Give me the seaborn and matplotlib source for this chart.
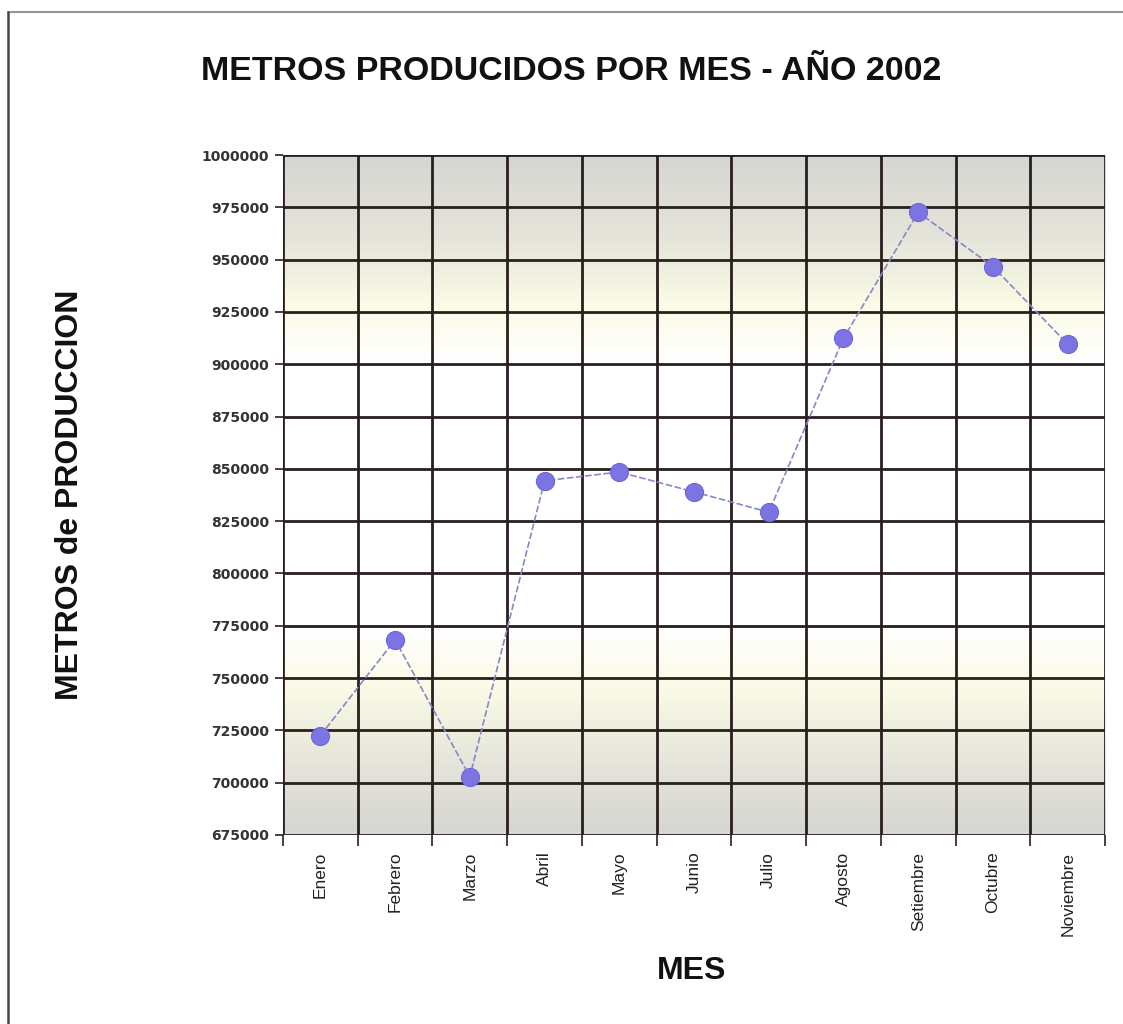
import numpy as np
import pandas as pd
import matplotlib
matplotlib.use("Agg")
import matplotlib.pyplot as plt
from matplotlib.colors import LinearSegmentedColormap
from matplotlib.lines import Line2D
import seaborn as sns

meses = ["Enero", "Febrero", "Marzo", "Abril", "Mayo", "Junio", "Julio",
         "Agosto", "Setiembre", "Octubre", "Noviembre"]
metros = [722500, 768300, 702900, 844300, 848500, 839000, 829300,
          912400, 972600, 946700, 909600]
y_ticks = list(range(675000, 1000001, 25000))

df = pd.DataFrame({"Mes": meses, "Metros": metros})

sns.set_theme(style="white")
plt.rcParams["font.family"] = ["Liberation Sans", "DejaVu Sans"]

fig = plt.figure(figsize=(11.23, 10.24), dpi=100)
ax = fig.add_axes([0.252, 0.1846, 0.732, 0.664])

# background band: grey at the edges, pale yellow, white in the middle
bg = LinearSegmentedColormap.from_list(
    "banda",
    [(0.0, "#d6d6d2"), (0.10, "#e4e4da"), (0.22, "#fbfbe6"), (0.30, "#ffffff"),
     (0.70, "#ffffff"), (0.78, "#fbfbe6"), (0.88, "#e4e4da"), (1.0, "#d6d6d2")])
grad = np.linspace(0, 1, 256).reshape(-1, 1)
ax.imshow(grad, cmap=bg, aspect="auto", extent=(-0.5, 10.5, 675000, 1000000),
          origin="lower", zorder=0)

# grid
for yv in y_ticks:
    ax.axhline(yv, color="#2a1e1e", lw=2.0, zorder=1)
for xv in np.arange(-0.5, 11.0, 1.0):
    ax.axvline(xv, color="#2a1e1e", lw=2.0, zorder=1)

sns.lineplot(data=df, x="Mes", y="Metros", ax=ax, sort=False,
             color="#8a86c8", lw=1.2, linestyle=(0, (4, 1.5)), zorder=3)
sns.scatterplot(data=df, x="Mes", y="Metros", ax=ax, s=170,
                color="#7b74e2", edgecolor="#6f68d8", linewidth=0.8, zorder=4)

ax.set_xlim(-0.5, 10.5)
ax.set_ylim(675000, 1000000)
ax.set_yticks(y_ticks)
ax.set_yticklabels([str(v) for v in y_ticks], fontsize=10, fontweight="bold",
                   color="#333333", family=["DejaVu Sans"])
ax.set_xticks(range(len(meses)))
ax.set_xticklabels(meses, rotation=90, fontsize=12.5, color="#222222")
ax.set_xticks(np.arange(-0.5, 11.0, 1.0), minor=True)
ax.tick_params(axis="x", which="major", length=0, pad=12)
ax.tick_params(axis="x", which="minor", length=8, width=1.2, color="#2a1e1e",
               bottom=True)
ax.tick_params(axis="y", which="major", length=6, width=1.2, color="#2a1e1e",
               left=True, pad=4)
for s in ax.spines.values():
    s.set_visible(False)
ax.set_xlabel("")
ax.set_ylabel("")

fig.text(0.509, 0.930, "METROS PRODUCIDOS POR MES - AÑO 2002", ha="center",
         va="center", fontsize=24.5, fontweight="bold", color="#111111")
fig.text(0.062, 0.517, "METROS de PRODUCCION", rotation=90, ha="center",
         va="center", fontsize=23, fontweight="bold", color="#111111")
fig.text(0.616, 0.052, "MES", ha="center", va="center", fontsize=23,
         fontweight="bold", color="#111111")

# outer frame
fig.add_artist(Line2D([8 / 1123, 1.0], [1 - 12 / 1024, 1 - 12 / 1024],
                      transform=fig.transFigure, color="#9a9098", lw=1.5))
fig.add_artist(Line2D([8 / 1123, 8 / 1123], [0.0, 1 - 12 / 1024],
                      transform=fig.transFigure, color="#4e3e4e", lw=1.8))

fig.savefig("out.png", dpi=100, facecolor="white")
